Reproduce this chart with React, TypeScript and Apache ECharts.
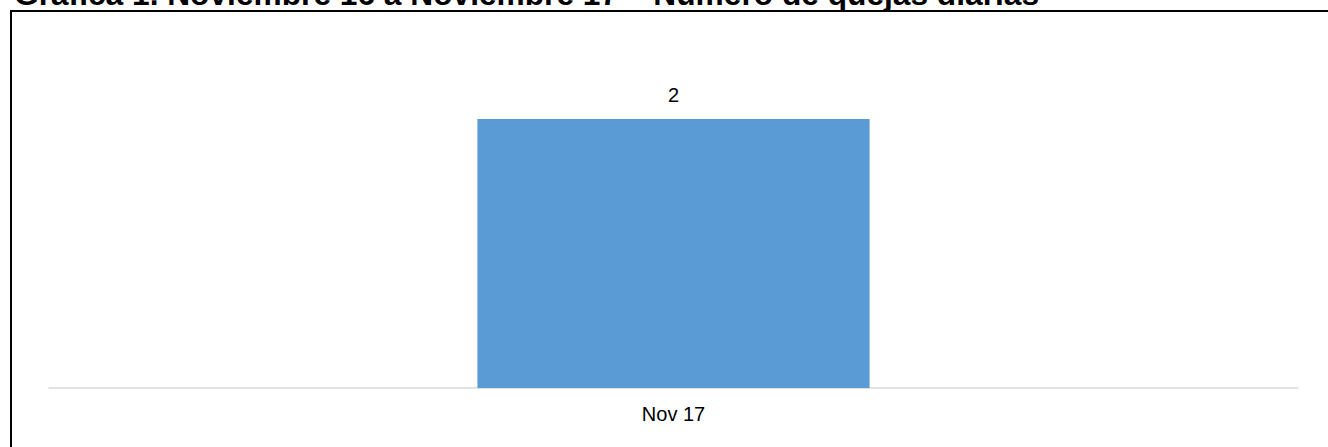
import React, { useEffect, useRef } from "react";
import * as echarts from "echarts";

const titleText = "Gráfica 1. Noviembre 16 a Noviembre 17 – Número de quejas diarias";
const categories = ["Nov 17"];
const complaints = [2];

export default function App() {
  const ref = useRef<HTMLDivElement>(null);
  useEffect(() => {
    document.body.style.margin = "0";
    const chart = echarts.init(ref.current!, null, { renderer: "svg" });
    chart.setOption({
      animation: false,
      backgroundColor: "#ffffff",
      textStyle: { fontFamily: "'Liberation Sans', Arial, sans-serif" },
      graphic: [
        {
          type: "rect",
          shape: { x: 11, y: 11, width: 1340, height: 460 },
          style: { fill: "none", stroke: "#000000", lineWidth: 2 },
          z: 10,
        },
        {
          type: "text",
          x: 14,
          y: -6,
          style: {
            text: titleText,
            fontFamily: "'Liberation Sans', Arial, sans-serif",
            fontWeight: "bold",
            fontSize: 31.7,
            fill: "#000000",
            verticalAlign: "middle",
            align: "left",
          },
          z: 10,
        },
      ],
      grid: { left: 49, right: 30, top: 51.75, bottom: 59, containLabel: false },
      xAxis: {
        type: "category",
        data: categories,
        axisLine: { show: true, lineStyle: { color: "#d9d9d9", width: 1.5 } },
        axisTick: { show: false },
        axisLabel: {
          color: "#000000",
          fontSize: 20,
          margin: 16,
          fontFamily: "'Liberation Sans', Arial, sans-serif",
        },
        splitLine: { show: false },
      },
      yAxis: {
        type: "value",
        min: 0,
        max: 2.5,
        show: false,
        splitLine: { show: false },
      },
      series: [
        {
          type: "bar",
          data: complaints,
          barWidth: "31.4%",
          itemStyle: { color: "#5b9bd5" },
          label: {
            show: true,
            position: "top",
            distance: 14,
            color: "#000000",
            fontSize: 20,
            fontFamily: "'Liberation Sans', Arial, sans-serif",
          },
        },
      ],
    });
    return () => chart.dispose();
  }, []);
  return <div ref={ref} style={{ width: 1328, height: 447 }} />;
}
